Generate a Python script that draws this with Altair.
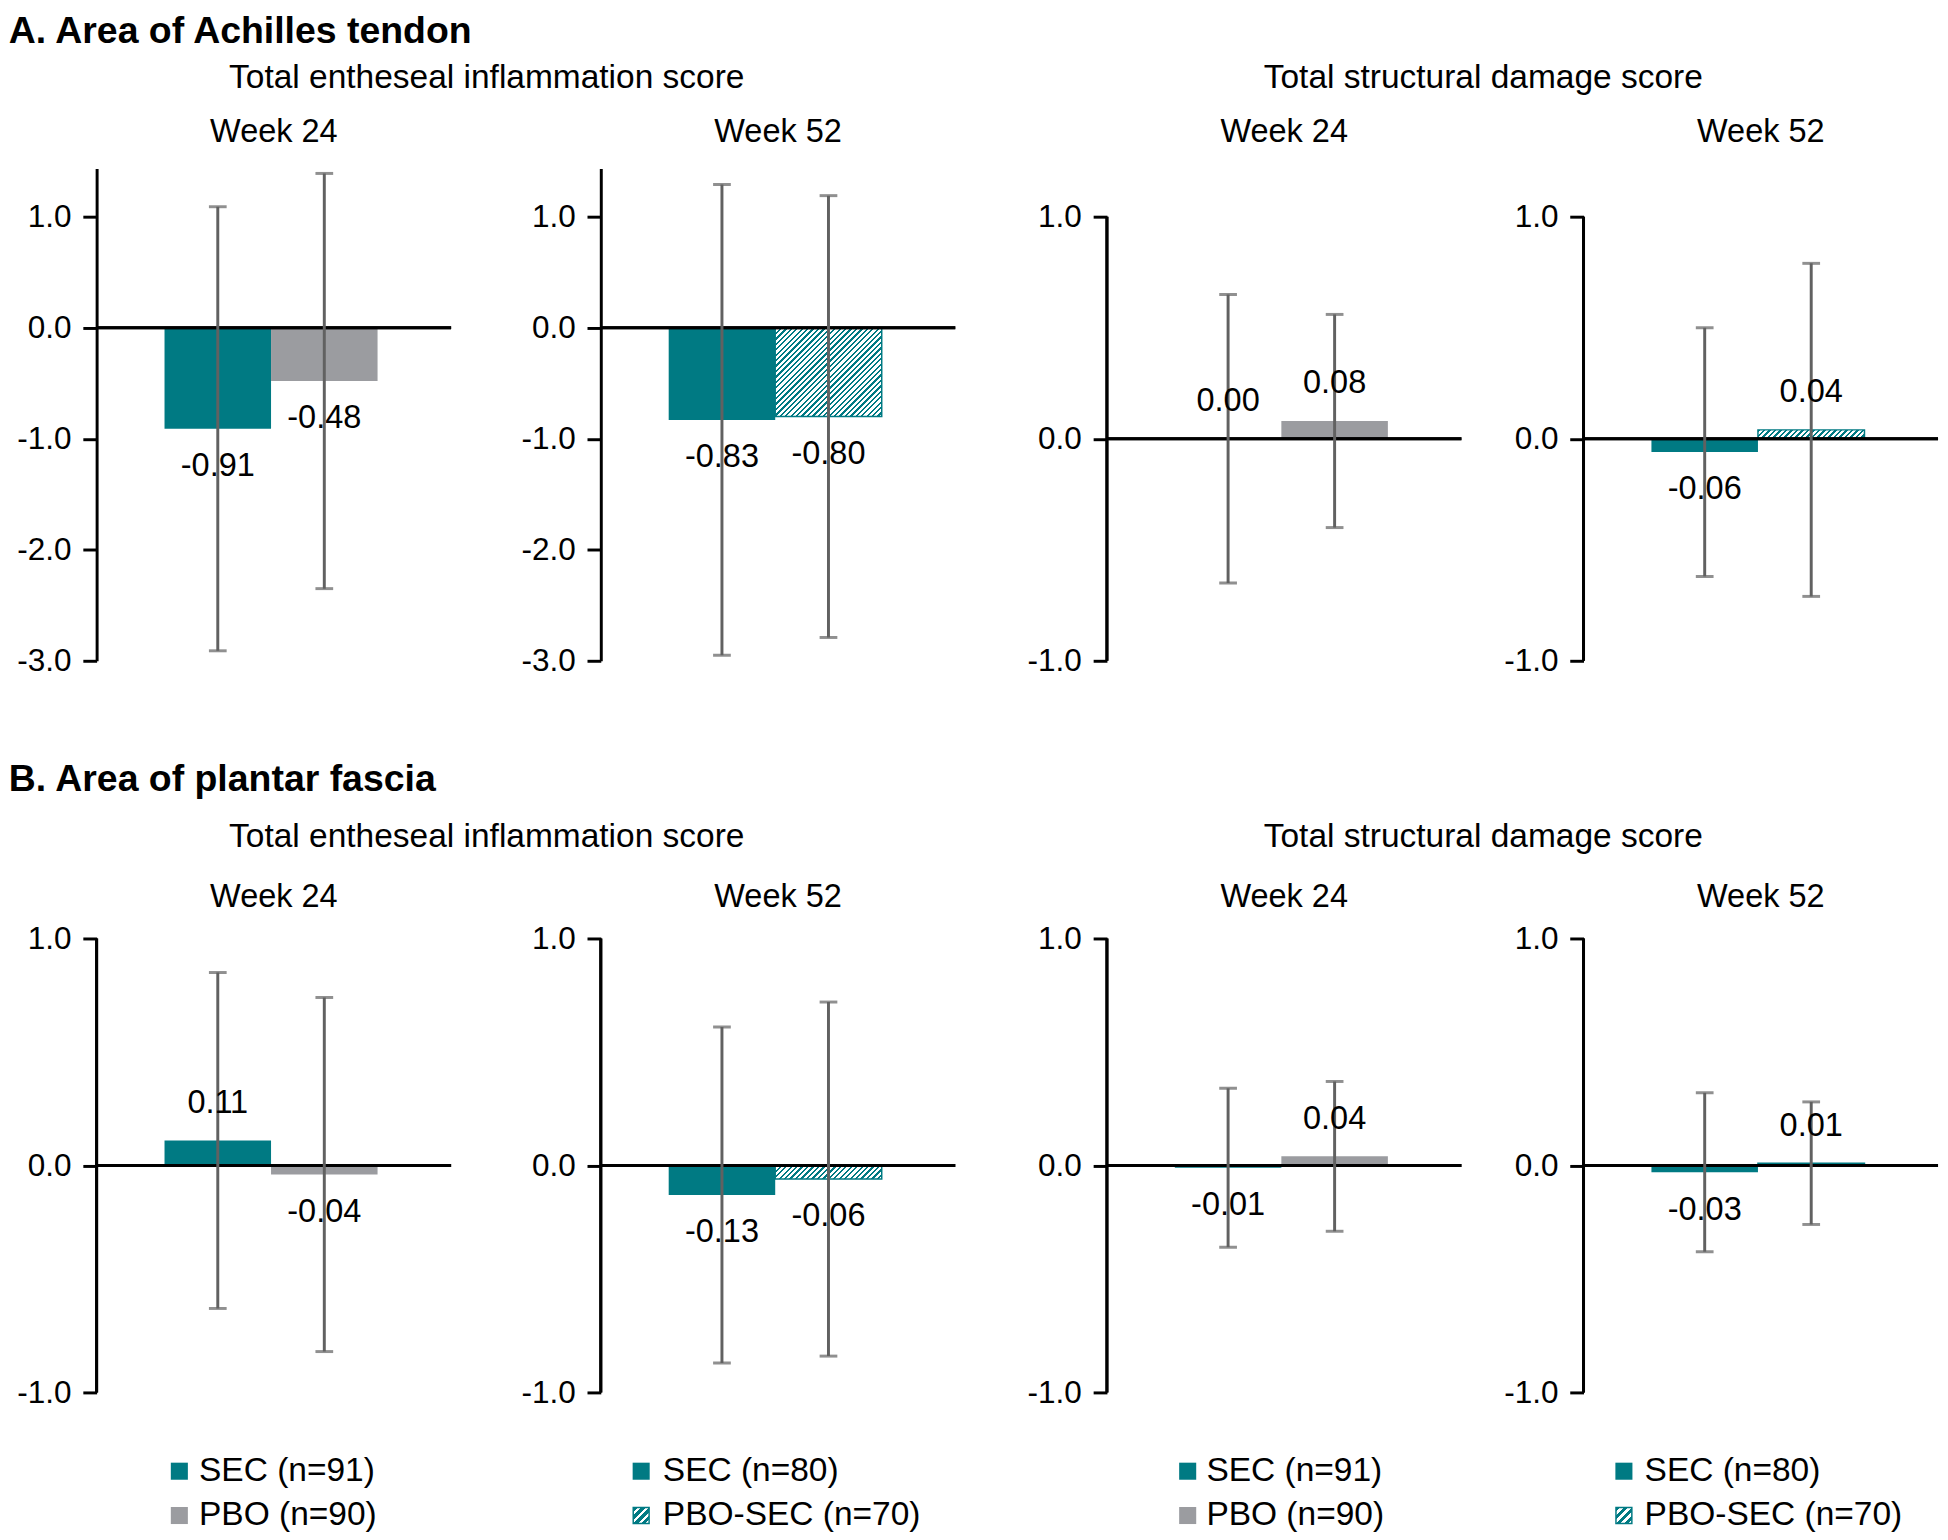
import altair as alt
import pandas as pd

FONT = "Liberation Sans"
TEAL = "#007a83"
GREY = "#9b9ca0"
ERR = "#616161"
BLACK = "#000000"

# ------------------------------------------------------------------ data
groups_wk24 = ["SEC", "PBO"]
groups_wk52 = ["SEC", "PBO-SEC"]
legend_wk24 = ["SEC (n=91)", "PBO (n=90)"]
legend_wk52 = ["SEC (n=80)", "PBO-SEC (n=70)"]

# A. Achilles tendon - entheseal inflammation
a_inf_w24_mean = [-0.91, -0.48]
a_inf_w24_lo = [-2.91, -2.35]
a_inf_w24_hi = [1.09, 1.39]
a_inf_w52_mean = [-0.83, -0.80]
a_inf_w52_lo = [-2.95, -2.79]
a_inf_w52_hi = [1.29, 1.19]
# A. Achilles tendon - structural damage
a_str_w24_mean = [0.00, 0.08]
a_str_w24_lo = [-0.65, -0.40]
a_str_w24_hi = [0.65, 0.56]
a_str_w52_mean = [-0.06, 0.04]
a_str_w52_lo = [-0.62, -0.71]
a_str_w52_hi = [0.50, 0.79]
# B. Plantar fascia - entheseal inflammation
b_inf_w24_mean = [0.11, -0.04]
b_inf_w24_lo = [-0.63, -0.82]
b_inf_w24_hi = [0.85, 0.74]
b_inf_w52_mean = [-0.13, -0.06]
b_inf_w52_lo = [-0.87, -0.84]
b_inf_w52_hi = [0.61, 0.72]
# B. Plantar fascia - structural damage
b_str_w24_mean = [-0.01, 0.04]
b_str_w24_lo = [-0.36, -0.29]
b_str_w24_hi = [0.34, 0.37]
b_str_w52_mean = [-0.03, 0.01]
b_str_w52_lo = [-0.38, -0.26]
b_str_w52_hi = [0.32, 0.28]

ticks_inf_a = [1.0, 0.0, -1.0, -2.0, -3.0]
ticks_pm1 = [1.0, 0.0, -1.0]

# ------------------------------------------------------------------ layout / style
W = 360
PAD_OUTER = 0.664
ALIGN = 0.48
H_A = 500
H_B = 461
DOM_A_INF = [-3.0, 1.435]
DOM_A_STR = [-1.0, 1.2175]
DOM_B = [-1.0, 1.0]
FS_TICK = 32
FS_VAL = 33
FS_WEEK = 33
FS_GROUP = 34
FS_LEG = 34
LABEL_DY = 38


def hatch_fill(w, h, period=5.5, frac=0.42):
    """Diagonal (45 deg) teal hatching as a sharp-stop linear gradient."""
    h = max(h, 1.0)
    n = max(1, round((w + h) / period))
    stops = []
    for i in range(n):
        s0 = i / n
        s1 = (i + frac) / n
        s2 = (i + 1) / n
        stops += [
            alt.GradientStop(offset=s0, color=TEAL),
            alt.GradientStop(offset=s1, color=TEAL),
            alt.GradientStop(offset=s1, color="white"),
            alt.GradientStop(offset=s2, color="white"),
        ]
    d = w * w + h * h
    return alt.LinearGradient(gradient="linear", stops=stops, x1=0, y1=0,
                              x2=w * (w + h) / d, y2=h * (w + h) / d)


def legend_swatch_fill():
    n = 4
    stops = []
    for i in range(n):
        stops += [
            alt.GradientStop(offset=i / n, color=TEAL),
            alt.GradientStop(offset=(i + 0.55) / n, color=TEAL),
            alt.GradientStop(offset=(i + 0.55) / n, color="white"),
            alt.GradientStop(offset=(i + 1) / n, color="white"),
        ]
    return alt.LinearGradient(gradient="linear", stops=stops, x1=0, y1=0, x2=1, y2=1)


def panel(title, groups, mean, lo, hi, domain, ticks, height, week_offset,
          full_axis, legend=None, legend_pos=None):
    df = pd.DataFrame({"group": groups, "mean": mean, "lo": lo, "hi": hi,
                       "label": [f"{v:.2f}" for v in mean]})
    step = W / (2 + 2 * PAD_OUTER)
    ppu = height / (domain[1] - domain[0])
    x = alt.X("group:N", sort=groups, axis=None,
              scale=alt.Scale(domain=groups, paddingInner=0,
                              paddingOuter=PAD_OUTER, align=ALIGN))
    yscale = alt.Scale(domain=domain, nice=False, zero=False)
    yaxis = alt.Axis(values=ticks, title=None, grid=False,
                     labelExpr="(datum.value < 0 ? '-' : '') + format(abs(datum.value), '.1f')",
                     domain=full_axis, domainWidth=3, domainColor=BLACK,
                     ticks=True, tickSize=14, tickWidth=3, tickColor=BLACK,
                     labelFontSize=FS_TICK, labelFont=FONT, labelColor=BLACK,
                     labelPadding=12)
    base = alt.Chart(df)
    layers = []
    for i, g in enumerate(groups):
        sub = base.transform_filter(alt.datum.group == g)
        if g == "SEC":
            bar = sub.mark_bar(color=TEAL)
        elif g == "PBO":
            bar = sub.mark_bar(color=GREY)
        else:
            bar = sub.mark_bar(fill=hatch_fill(step, abs(mean[i]) * ppu),
                               stroke=TEAL, strokeWidth=1.5)
        layers.append(bar.encode(x=x, y=alt.Y("mean:Q", scale=yscale, axis=yaxis),
                                 y2=alt.datum(0)))
    # zero line
    layers.append(base.mark_rule(color=BLACK, strokeWidth=3).encode(
        y=alt.Y(datum=0, scale=yscale, axis=yaxis)))
    # partial axis line (axis drawn only over the tick range)
    if not full_axis:
        layers.append(base.mark_rule(color=BLACK, strokeWidth=3).encode(
            x=alt.value(0), y=alt.Y(datum=ticks[0], scale=yscale, axis=yaxis),
            y2=alt.datum(ticks[-1])))
    # error bars
    layers.append(base.mark_rule(color=ERR, strokeWidth=3).encode(
        x=x, y=alt.Y("lo:Q", scale=yscale, axis=yaxis), y2="hi:Q"))
    layers.append(base.mark_tick(color=ERR, thickness=3, size=18, orient="horizontal").encode(
        x=x, y=alt.Y("lo:Q", scale=yscale, axis=yaxis)))
    layers.append(base.mark_tick(color=ERR, thickness=3, size=18, orient="horizontal").encode(
        x=x, y=alt.Y("hi:Q", scale=yscale, axis=yaxis)))
    # value labels
    layers.append(base.transform_filter(alt.datum.mean < 0).mark_text(
        fontSize=FS_VAL, font=FONT, color=BLACK, baseline="middle", dy=LABEL_DY).encode(
        x=x, y=alt.Y("mean:Q", scale=yscale, axis=yaxis), text="label:N"))
    layers.append(base.transform_filter(alt.datum.mean >= 0).mark_text(
        fontSize=FS_VAL, font=FONT, color=BLACK, baseline="middle", dy=-LABEL_DY).encode(
        x=x, y=alt.Y("mean:Q", scale=yscale, axis=yaxis), text="label:N"))
    # legend under the panel
    if legend is not None:
        sq_x, txt_x = legend_pos
        for k, (lbl, g) in enumerate(zip(legend, groups)):
            yv = height + 80 + 45 * k
            ldf = alt.Chart(pd.DataFrame({"t": [lbl]}))
            if g == "SEC":
                sq = ldf.mark_square(size=300, fill=TEAL, strokeWidth=0, opacity=1)
            elif g == "PBO":
                sq = ldf.mark_square(size=300, fill=GREY, strokeWidth=0, opacity=1)
            else:
                sq = ldf.mark_square(size=260, fill=legend_swatch_fill(), stroke=TEAL,
                                     strokeWidth=1.5, opacity=1)
            layers.append(sq.encode(x=alt.value(sq_x), y=alt.value(yv)))
            layers.append(ldf.mark_text(fontSize=FS_LEG, font=FONT, color=BLACK, align="left",
                                        baseline="middle").encode(
                x=alt.value(txt_x), y=alt.value(yv), text="t:N"))
    return alt.layer(*layers).properties(
        width=W, height=height,
        title=alt.TitleParams(title, fontSize=FS_WEEK, font=FONT, fontWeight="normal",
                              color=BLACK, offset=week_offset, frame="group",
                              anchor="middle"))


def group_title(text, offset):
    return alt.TitleParams(text, fontSize=FS_GROUP, font=FONT, fontWeight="normal",
                           color=BLACK, offset=offset, anchor="middle")


def row_title(text, offset):
    return alt.TitleParams(text, fontSize=38, font=FONT, fontWeight="bold",
                           color=BLACK, offset=offset, anchor="start", dx=-8)


pA1 = panel("Week 24", groups_wk24, a_inf_w24_mean, a_inf_w24_lo, a_inf_w24_hi,
            DOM_A_INF, ticks_inf_a, H_A, 20, True)
pA2 = panel("Week 52", groups_wk52, a_inf_w52_mean, a_inf_w52_lo, a_inf_w52_hi,
            DOM_A_INF, ticks_inf_a, H_A, 20, True)
pA3 = panel("Week 24", groups_wk24, a_str_w24_mean, a_str_w24_lo, a_str_w24_hi,
            DOM_A_STR, ticks_pm1, H_A, 20, False)
pA4 = panel("Week 52", groups_wk52, a_str_w52_mean, a_str_w52_lo, a_str_w52_hi,
            DOM_A_STR, ticks_pm1, H_A, 20, False)

pB1 = panel("Week 24", groups_wk24, b_inf_w24_mean, b_inf_w24_lo, b_inf_w24_hi,
            DOM_B, ticks_pm1, H_B, 9, False, legend_wk24, (84, 104))
pB2 = panel("Week 52", groups_wk52, b_inf_w52_mean, b_inf_w52_lo, b_inf_w52_hi,
            DOM_B, ticks_pm1, H_B, 9, False, legend_wk52, (41, 63))
pB3 = panel("Week 24", groups_wk24, b_str_w24_mean, b_str_w24_lo, b_str_w24_hi,
            DOM_B, ticks_pm1, H_B, 9, False, legend_wk24, (82, 101))
pB4 = panel("Week 52", groups_wk52, b_str_w52_mean, b_str_w52_lo, b_str_w52_hi,
            DOM_B, ticks_pm1, H_B, 9, False, legend_wk52, (41, 62))

rowA = alt.hconcat(
    alt.hconcat(pA1, pA2, spacing=68).properties(
        title=group_title("Total entheseal inflammation score", 22)),
    alt.hconcat(pA3, pA4, spacing=40).properties(
        title=group_title("Total structural damage score", 22)),
    spacing=70,
).properties(title=row_title("A. Area of Achilles tendon", 10))

rowB = alt.hconcat(
    alt.hconcat(pB1, pB2, spacing=68).properties(
        title=group_title("Total entheseal inflammation score", 28)),
    alt.hconcat(pB3, pB4, spacing=40).properties(
        title=group_title("Total structural damage score", 28)),
    spacing=70,
).properties(title=row_title("B. Area of plantar fascia", 22))

chart = alt.vconcat(rowA, rowB, spacing=86).properties(
    padding={"left": 0, "top": -6, "right": 0, "bottom": 0},
    background="white",
).configure(font=FONT).configure_view(stroke=None)

chart.save("out.html", embed_options={"renderer": "svg", "actions": False})
